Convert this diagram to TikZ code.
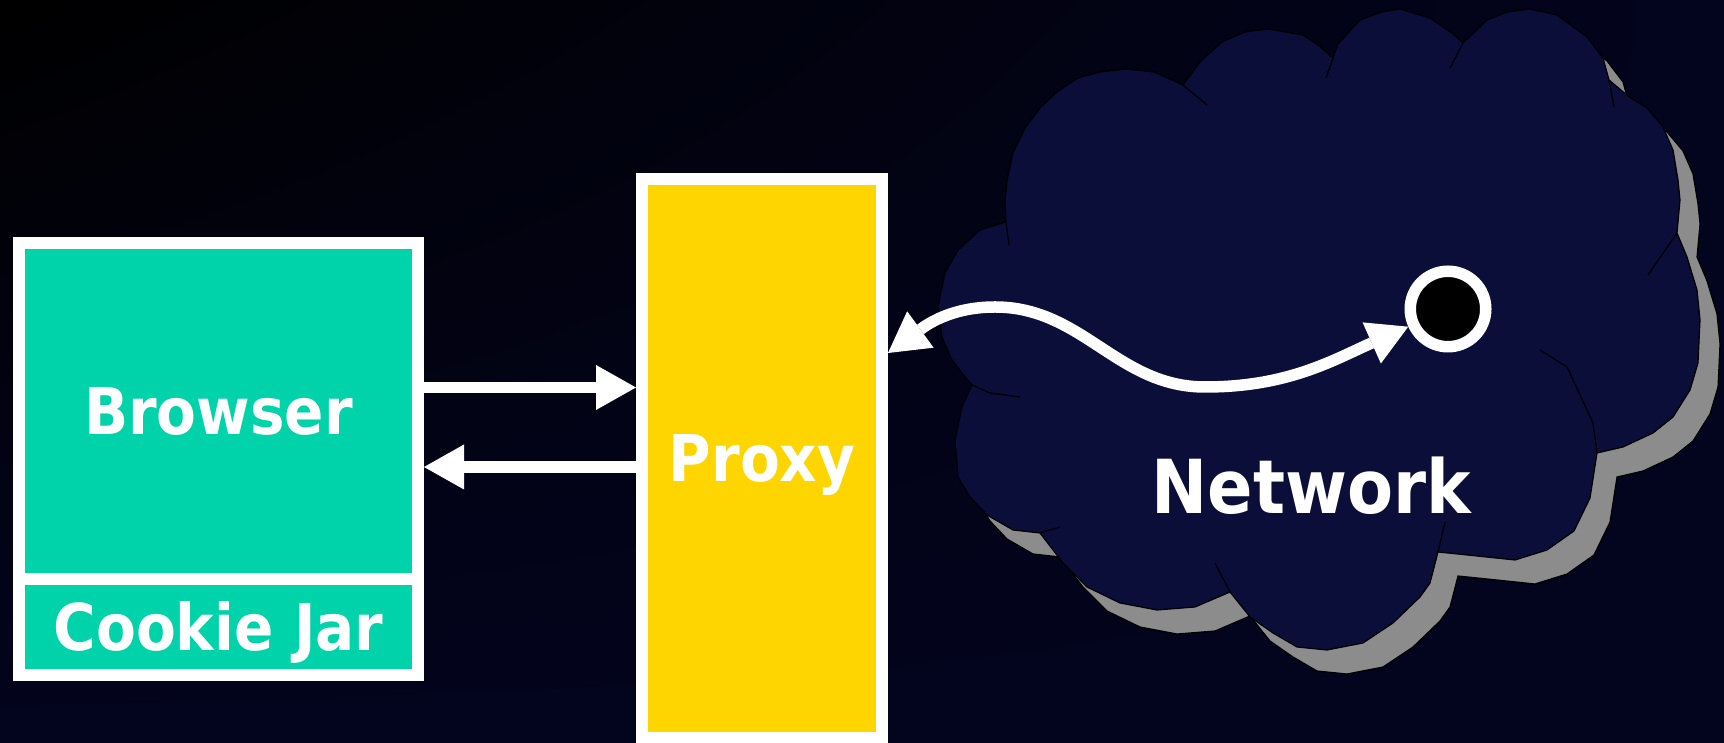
\documentclass[tikz,border=0pt]{standalone}
\usepackage{fontspec}
\setmainfont{DejaVu Sans}[FakeStretch=0.9]
\usetikzlibrary{arrows.meta, positioning, shadings}

\definecolor{bgnavy}{RGB}{3,4,30}
\definecolor{browsergreen}{RGB}{0,211,170}
\definecolor{proxyyellow}{RGB}{255,213,0}
\definecolor{cloudnavy}{RGB}{11,14,56}
\definecolor{shadowgray}{RGB}{140,140,140}

% cloud outline in screen pixels (y downwards)
\newcommand{\cloudoutline}{(1006,222) -- (1005,203) -- (1007,180) -- (1013,153) -- (1025,128) -- (1040,108) -- (1057,92) -- (1078,78) -- (1100,72) -- (1126,69) -- (1154,72) -- (1183,85)
 -- (1200,62) -- (1222,42) -- (1245,32) -- (1268,29) -- (1303,35) -- (1318,45) -- (1333,58)
 -- (1338,44) -- (1360,20) -- (1382,12) -- (1400,9) -- (1430,18) -- (1452,33) -- (1463,43)
 -- (1487,20) -- (1507,12) -- (1530,9) -- (1557,15) -- (1587,37) -- (1603,58) -- (1609,80)
 -- (1628,96) -- (1647,108) -- (1663,127) -- (1673,150) -- (1678,180) -- (1680,200) -- (1677,233)
 -- (1687,257) -- (1697,290) -- (1700,320) -- (1698,363) -- (1690,390) -- (1673,417) -- (1653,433) -- (1623,447) -- (1597,453)
 -- (1590,498) -- (1574,531) -- (1547,550) -- (1515,560) -- (1477,556) -- (1438,552)
 -- (1430,583) -- (1420,597) -- (1393,623) -- (1363,643) -- (1327,650) -- (1297,647) -- (1273,633) -- (1250,617) -- (1230,592)
 -- (1195,607) -- (1157,610) -- (1120,603) -- (1087,587) -- (1063,563) -- (1040,533)
 -- (1013,530) -- (987,515) -- (970,497) -- (958,477) -- (955,440) -- (962,407) -- (972,385)
 -- (965,377) -- (952,360) -- (942,337) -- (938,307) -- (945,273) -- (958,250) -- (980,230) -- cycle}

\begin{document}
\begin{tikzpicture}[x=0.5pt, y=0.5pt,
    box/.style={draw=white, line width=6pt, inner sep=0pt, text=white,
      font=\bfseries\fontsize{32.25pt}{38pt}\selectfont, text height=23.5pt, text depth=0pt},
    flow/.style={white, line width=5.75pt},
    >={Triangle[length=20pt, width=22.5pt, line width=0pt]},
    cloudline/.style={black, line width=0.6pt}]

  \useasboundingbox (0,0) rectangle (1724,743);
  \shade[upper left=black, upper right=bgnavy, lower left=bgnavy, lower right=bgnavy] (0,0) rectangle (1724,743);

  % the cloud, with its shadow
  \begin{scope}[shift={(0,743)}, yscale=-1]
    \filldraw[cloudline, fill=shadowgray, shift={(20,24)}] \cloudoutline;
    \filldraw[cloudline, fill=cloudnavy] \cloudoutline;
    \draw[cloudline] (1006,222) -- (1009,245);
    \draw[cloudline] (1183,85) -- (1207,105);
    \draw[cloudline] (1333,58) -- (1326,78);
    \draw[cloudline] (1463,43) -- (1450,68);
    \draw[cloudline] (1609,80) -- (1614,107);
    \draw[cloudline] (1677,233) -- (1648,275);
    \draw[cloudline] (1597,453) -- (1593,423) -- (1567,367) -- (1540,350);
    \draw[cloudline] (1438,552) -- (1445,522);
    \draw[cloudline] (1230,592) -- (1215,563);
    \draw[cloudline] (1040,533) -- (1060,527);
    \draw[cloudline] (972,385) -- (990,393) -- (1020,397);
  \end{scope}

  \node[text=white, inner sep=0pt, font=\bfseries\fontsize{37.25pt}{44pt}\selectfont,
    text height=27.15pt, text depth=0pt] (network) at (1311.5,257) {Network};

  % boxes
  \node[box, fill=browsergreen, minimum width=199.5pt, minimum height=168pt] (browser) at (218.5,332) {Browser};
  \node[box, fill=browsergreen, minimum width=199.5pt, minimum height=48pt, below=-6pt of browser] (jar) {Cookie Jar};
  \node[box, fill=proxyyellow, minimum width=120pt, minimum height=279.5pt] (proxy) at (762,284.5) {Proxy};

  % host in the network
  \node[circle, draw=white, fill=black, line width=5.75pt, minimum size=37.75pt, inner sep=0pt] (dot) at (1448,434) {};
  \coordinate (crest) at (995,436);
  \coordinate (dip) at (1205,356);

  % arrows
  \draw[flow, ->] ([yshift=11.75pt]browser.east) -- ([yshift=11.75pt]browser.east -| proxy.west);
  \draw[flow, ->] ([yshift=-28pt]browser.east -| proxy.west) -- ([yshift=-28pt]browser.east);
  \draw[flow, <->] ([yshift=52.75pt]proxy.east) to[out=36, in=180] (crest)
    to[out=0, in=180] (dip) to[out=0, in=204] (dot);

\end{tikzpicture}
\end{document}
